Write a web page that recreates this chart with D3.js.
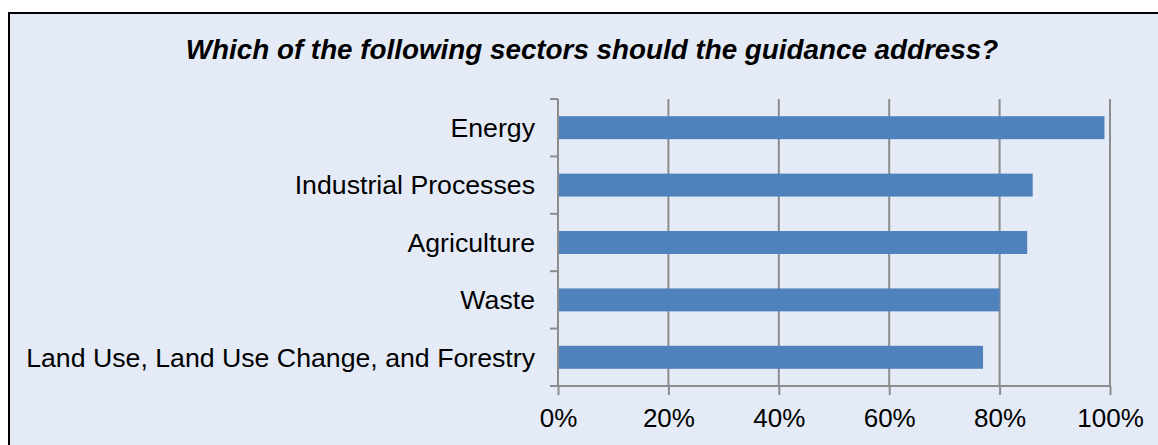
<!DOCTYPE html>
<html>
  <head>
    <meta charset="utf-8">
    <title>Guidance sectors</title>
    <script src="https://d3js.org/d3.v7.min.js"></script>
    <style>
      body { margin: 0; background: #fff; }
      svg text { font-family: "Liberation Sans", Arial, sans-serif; fill: #000; }
    </style>
  </head>
  <body>
    <div id="chart"></div>
    <script>
      // data
      const sectors = ["Energy", "Industrial Processes", "Agriculture", "Waste", "Land Use, Land Use Change, and Forestry"];
      const shares = [0.99, 0.86, 0.85, 0.80, 0.77];
      const xTicks = [0, 0.2, 0.4, 0.6, 0.8, 1];
      const title = "Which of the following sectors should the guidance address?";

      const width = 1158, height = 445;
      const margin = { top: 99, right: 48, bottom: 59, left: 558 };

      const svg = d3.select("#chart")
        .append("svg")
        .attr("width", width)
        .attr("height", height);

      // chart area with border
      svg.append("rect")
        .attr("x", 9)
        .attr("y", 13)
        .attr("width", width)
        .attr("height", height)
        .attr("fill", "#e4ebf6")
        .attr("stroke", "#000")
        .attr("stroke-width", 2);

      svg.append("text")
        .attr("x", 592)
        .attr("y", 59)
        .attr("text-anchor", "middle")
        .style("font-size", "27.8px")
        .style("font-weight", "bold")
        .style("font-style", "italic")
        .text(title);

      const x = d3.scaleLinear()
        .domain([0, 1])
        .range([margin.left, width - margin.right]);

      const y = d3.scaleBand()
        .domain(sectors)
        .range([margin.top, height - margin.bottom])
        .paddingInner(0.6)
        .paddingOuter(0.3);

      // vertical gridlines
      svg.append("g")
        .selectAll("line")
          .data(xTicks.slice(1))
        .enter().append("line")
          .attr("x1", d => x(d))
          .attr("x2", d => x(d))
          .attr("y1", margin.top)
          .attr("y2", height - margin.bottom)
          .attr("stroke", "#8c8c8c")
          .attr("stroke-width", 2);

      // bars
      svg.append("g")
        .selectAll("rect")
          .data(sectors)
        .enter().append("rect")
          .attr("x", x(0))
          .attr("y", d => y(d))
          .attr("width", (d, i) => x(shares[i]) - x(0))
          .attr("height", y.bandwidth())
          .attr("fill", "#4f81bd");

      // y axis with ticks between categories
      const yAxis = svg.append("g");
      yAxis.append("line")
        .attr("x1", x(0)).attr("x2", x(0))
        .attr("y1", margin.top).attr("y2", height - margin.bottom)
        .attr("stroke", "#8c8c8c").attr("stroke-width", 2);
      yAxis.selectAll(".tick")
        .data(d3.range(sectors.length + 1))
        .enter().append("line")
          .attr("x1", x(0) - 8).attr("x2", x(0))
          .attr("y1", i => margin.top + i * y.step())
          .attr("y2", i => margin.top + i * y.step())
          .attr("stroke", "#8c8c8c").attr("stroke-width", 2);
      yAxis.selectAll("text")
        .data(sectors)
        .enter().append("text")
          .attr("x", x(0) - 23)
          .attr("y", d => y(d) + y.bandwidth() / 2)
          .attr("dy", "0.35em")
          .attr("text-anchor", "end")
          .style("font-size", "26.7px")
          .text(d => d);

      // x axis
      const xAxis = svg.append("g")
        .attr("transform", `translate(0,${height - margin.bottom})`)
        .call(d3.axisBottom(x)
          .tickValues(xTicks)
          .tickFormat(d3.format(".0%"))
          .tickSizeInner(9)
          .tickSizeOuter(0)
          .tickPadding(14));
      xAxis.select(".domain")
        .attr("stroke", "#8c8c8c").attr("stroke-width", 2)
        .attr("d", `M${x(0) - 8},0H${x(1)}`);
      xAxis.selectAll(".tick line")
        .attr("stroke", "#8c8c8c").attr("stroke-width", 2);
      xAxis.selectAll(".tick text")
        .style("font-size", "26px")
        .style("font-family", "'Liberation Sans', Arial, sans-serif");
    </script>
  </body>
</html>
